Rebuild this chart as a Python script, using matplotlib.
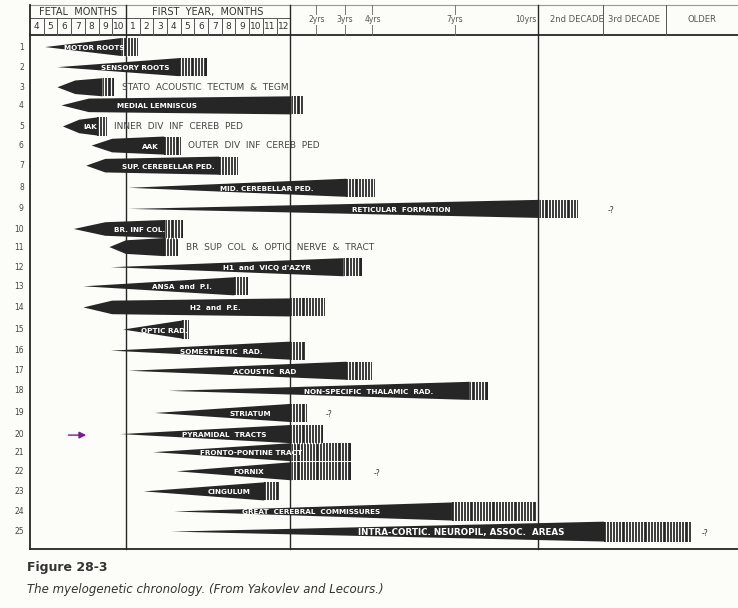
import matplotlib
matplotlib.use("Agg")
import matplotlib.pyplot as plt
from matplotlib.patches import Polygon, Rectangle
import numpy as np

# x in chart column units: 0 = start of fetal month 4, 7 = birth, 19 = 1 year
fetal_months = ["4", "5", "6", "7", "8", "9", "10"]
first_year = [str(i) for i in range(1, 13)]
year_ticks = [20.9, 23.0, 25.0, 31.0]
year_labels = ["2yrs", "3yrs", "4yrs", "7yrs"]
decade_edges = [37.1, 41.8, 46.4, 51.7]
decade_labels = ["2nd DECADE", "3rd DECADE", "OLDER"]

rows = list(range(1, 26))
row_y = [1, 2, 3, 3.9, 4.95, 5.9, 6.9, 8.0, 9.05, 10.05, 10.95, 11.95, 12.9,
         13.95, 15.05, 16.1, 17.1, 18.1, 19.2, 20.25, 21.15, 22.1, 23.1, 24.1, 25.1]
tip = [1.1, 2.0, 2.0, 2.3, 2.4, 4.5, 4.1, 7.2, 7.2, 3.2, 5.8, 5.9, 3.9,
       3.9, 6.8, 5.9, 7.2, 10.1, 9.1, 6.6, 9.0, 10.7, 8.3, 10.5, 10.3]
solid_end = [6.7, 10.9, 5.3, 19.1, 4.9, 9.8, 13.8, 23.1, 37.2, 9.9, 9.8, 22.9, 14.9,
             19.0, 11.1, 19.0, 23.1, 32.1, 19.0, 19.0, 19.1, 19.1, 17.1, 30.8, 41.9]
hatch_end = [7.9, 12.9, 6.1, 20.0, 5.6, 11.0, 15.2, 25.2, 40.0, 11.2, 10.8, 24.2, 15.9,
             21.5, 11.6, 20.1, 25.0, 33.4, 20.2, 21.4, 23.4, 23.4, 18.2, 37.0, 48.3]
# knee: x where taper reaches 75 % of width (None = straight taper)
knee = [None, None, 3.3, 4.3, 3.6, 6.0, 5.5, None, None, 5.5, 7.0, None, None,
        6.0, None, None, None, None, None, None, None, None, None, None, None]
inside_labels = ["MOTOR ROOTS", "SENSORY ROOTS", "", "MEDIAL LEMNISCUS", "IAK", "AAK",
                 "SUP. CEREBELLAR PED.", "MID. CEREBELLAR PED.", "RETICULAR  FORMATION",
                 "BR. INF COL.", "", "H1  and  VICQ d'AZYR", "ANSA  and  P.I.",
                 "H2  and  P.E.", "OPTIC RAD.", "SOMESTHETIC  RAD.", "ACOUSTIC  RAD",
                 "NON-SPECIFIC  THALAMIC  RAD.", "STRIATUM", "PYRAMIDAL  TRACTS",
                 "FRONTO-PONTINE TRACT", "FORNIX", "CINGULUM",
                 "GREAT  CEREBRAL  COMMISSURES", "INTRA-CORTIC. NEUROPIL, ASSOC.  AREAS"]
label_x = [4.7, 7.7, 0, 9.3, 4.4, 8.8, 10.1, 17.3, 27.1, 8.0, 0, 17.3, 11.1,
           13.5, 9.8, 14.0, 17.1, 24.7, 16.1, 14.2, 16.1, 16.0, 14.5, 20.5, 31.5]
outside_labels = {3: ("STATO  ACOUSTIC  TECTUM  &  TEGM", 6.7),
                  5: ("INNER  DIV  INF  CEREB  PED", 6.1),
                  6: ("OUTER  DIV  INF  CEREB  PED", 11.5),
                  11: ("BR  SUP  COL  &  OPTIC  NERVE  &  TRACT", 11.4)}
question_rows = {9: 42.4, 19: 21.8, 22: 25.3, 25: 49.3}

BG = "#fcfcf8"
INK = "#262626"
fig = plt.figure(figsize=(7.38, 6.08), dpi=100, facecolor=BG)
ax = fig.add_axes([0, 0, 1, 1])
ax.set_facecolor(BG)
ax.set_xlim(-2.19, 51.68)
ax.set_ylim(28.9, -1.34)
ax.axis("off")

# frame lines
top, mid, hdr, bot = -1.09, -0.44, 0.42, 25.97
ax.plot([0, 51.7], [top, top], color="#999", lw=0.8)
ax.plot([0, 51.7], [hdr, hdr], color=INK, lw=1.3)
ax.plot([0, 19], [mid, mid], color="#555", lw=0.7)
ax.plot([0, 0], [top, bot], color=INK, lw=1.3)
ax.plot([0, 51.7], [bot, bot], color=INK, lw=1.3)
for xv in [7, 19, 37.1]:
    ax.plot([xv, xv], [top, bot], color=INK, lw=1.0)
for xv in decade_edges[1:3]:
    ax.plot([xv, xv], [top, hdr], color="#555", lw=0.7)
for i in range(1, 19):
    if i != 7:
        ax.plot([i, i], [mid, hdr], color="#555", lw=0.7)
ax.text(3.5, (top + mid) / 2, "FETAL  MONTHS", ha="center", va="center", fontsize=7, color="#333")
ax.text(13, (top + mid) / 2, "FIRST  YEAR,  MONTHS", ha="center", va="center", fontsize=7, color="#333")
for i, t in enumerate(fetal_months + first_year):
    ax.text(i + 0.5, (mid + hdr) / 2, t, ha="center", va="center", fontsize=6.5, color="#333")
for xv, t in zip(year_ticks, year_labels):
    ax.plot([xv, xv], [top, hdr], color="#666", lw=0.6)
    ax.text(xv, -0.35, t, ha="center", va="center", fontsize=5.5, color="#555",
            bbox=dict(facecolor=BG, edgecolor="none", pad=0.5))
ax.text(37.0, -0.35, "10yrs", ha="right", va="center", fontsize=5.5, color="#555")
for a, b, t in zip(decade_edges[:-1], decade_edges[1:], decade_labels):
    ax.text((a + b) / 2 + (0.5 if t == "2nd DECADE" else 0), -0.35, t, ha="center", va="center",
            fontsize=6, color="#555")

# row numbers
for r, y in zip(rows, row_y):
    ax.text(-0.45, y, str(r), ha="right", va="center", fontsize=5.5, color="#444")

H = 0.45
for i, r in enumerate(rows):
    y = row_y[i]
    h = H * (1.1 if r == 25 else 1.0)
    t0, s1, e1 = tip[i], solid_end[i], hatch_end[i]
    if knee[i] is None:
        pts = [(t0, y), (s1, y - h), (s1, y + h)]
    else:
        k = knee[i]
        pts = [(t0, y), (k, y - 0.75 * h), (s1, y - h), (s1, y + h), (k, y + 0.75 * h)]
    ax.add_patch(Polygon(pts, closed=True, facecolor=INK, edgecolor="none"))
    ax.add_patch(Rectangle((s1, y - h), e1 - s1, 2 * h, facecolor=INK, edgecolor="none"))
    for xv in np.arange(s1 + 0.12, e1 - 0.05, 0.23):
        ax.plot([xv, xv], [y - h, y + h], color=BG, lw=0.9)
    if inside_labels[i]:
        ax.text(label_x[i], y + 0.05, inside_labels[i], ha="center", va="center",
                fontsize=6.3 if r == 25 else 5.2, fontweight="bold", color="white")
    if r in outside_labels:
        t, xx = outside_labels[r]
        ax.text(xx, y, t, ha="left", va="center", fontsize=6.5, color="#444")
    if r in question_rows:
        ax.text(question_rows[r], y + 0.1, "-?", ha="center", va="center", fontsize=5.5, color="#333")

# purple arrow
ax.annotate("", xy=(4.3, 20.3), xytext=(2.6, 20.3),
            arrowprops=dict(arrowstyle="-|>", color="#7a1a9a", lw=1.0))

fig.text(27 / 738, 1 - 567 / 608, "Figure 28-3", fontsize=9, fontweight="bold",
         color="#333", va="center")
fig.text(27 / 738, 1 - 590 / 608, "The myelogenetic chronology. (From Yakovlev and Lecours.)",
         fontsize=8.5, style="italic", color="#333", va="center")

fig.savefig("out.png", dpi=100, facecolor=BG)
